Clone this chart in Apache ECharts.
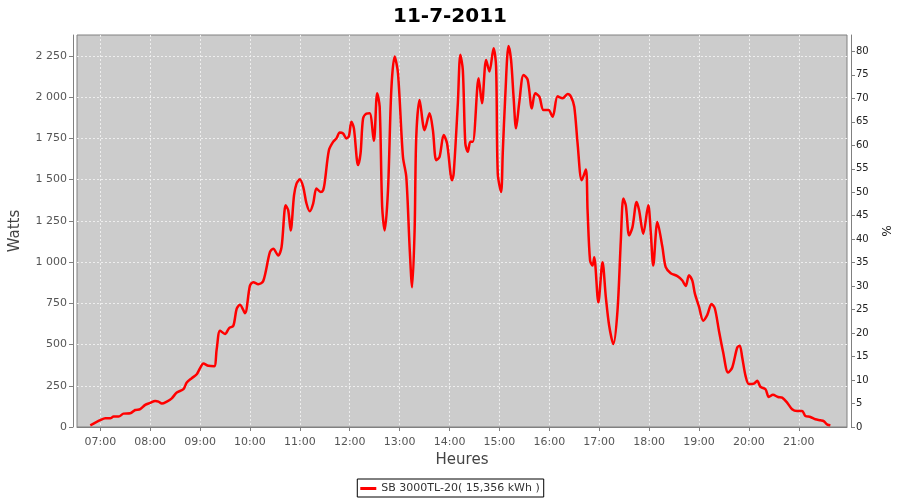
<!DOCTYPE html>
<html>
<head>
<meta charset="utf-8">
<script src="https://cdn.jsdelivr.net/npm/echarts@6/dist/echarts.min.js"></script>
<style>html,body{margin:0;padding:0;background:#fff}#c{width:900px;height:500px}</style>
</head>
<body>
<div id="c"></div>
<script>
var chartTitle = '11-7-2011';
var seriesName = 'SB 3000TL-20( 15,356 kWh )';
var day = '2011-07-11';
var times = ['06:48','07:00','07:06','07:12','07:16','07:22','07:28','07:36','07:42','07:48','07:54','08:00','08:06','08:10','08:14','08:20','08:26','08:32','08:40','08:44','08:50','08:56','09:00','09:04','09:10','09:17','09:20','09:24','09:30','09:35','09:40','09:44','09:48','09:54','10:00','10:04','10:10','10:16','10:24','10:28','10:34','10:38','10:43','10:46','10:49','10:53','10:56','11:00','11:04','11:08','11:12','11:16','11:20','11:25','11:28','11:30','11:35','11:40','11:44','11:48','11:52','11:56','11:59','12:02','12:05','12:10','12:13','12:16','12:20','12:24','12:29','12:33','12:36','12:39','12:42','12:46','12:50','12:54','12:58','13:04','13:08','13:12','13:15','13:18','13:20','13:24','13:30','13:36','13:40','13:44','13:48','13:53','13:57','14:03','14:05','14:10','14:13','14:16','14:19','14:22','14:25','14:28','14:35','14:39','14:44','14:48','14:53','14:56','14:58','15:02','15:04','15:07','15:11','15:14','15:17','15:20','15:24','15:29','15:34','15:39','15:43','15:48','15:53','15:59','16:04','16:10','16:16','16:22','16:26','16:30','16:34','16:39','16:44','16:46','16:49','16:52','16:54','16:59','17:04','17:08','17:12','17:17','17:22','17:26','17:29','17:32','17:36','17:40','17:45','17:48','17:53','17:59','18:02','18:05','18:10','18:16','18:20','18:26','18:34','18:40','18:44','18:48','18:52','18:55','19:00','19:05','19:10','19:15','19:19','19:24','19:29','19:35','19:40','19:46','19:49','19:52','19:56','20:00','20:06','20:10','20:14','20:20','20:24','20:29','20:35','20:40','20:46','20:52','20:58','21:04','21:08','21:14','21:20','21:26','21:30','21:34','21:38'];
var watts = [10,41,53,53,63,63,81,83,103,108,134,146,158,154,142,154,174,209,229,270,296,320,357,385,371,369,472,584,564,600,614,716,742,690,857,878,866,885,1060,1081,1040,1091,1344,1314,1192,1405,1476,1502,1456,1355,1308,1355,1446,1425,1436,1486,1679,1729,1750,1786,1780,1750,1764,1851,1811,1588,1659,1870,1900,1902,1735,2024,1942,1334,1192,1436,2044,2246,2145,1638,1517,1091,847,1192,1760,1983,1800,1902,1800,1618,1638,1770,1720,1496,1537,1963,2257,2165,1720,1669,1729,1729,2115,1963,2226,2155,2297,2186,1537,1425,1659,2003,2311,2226,2003,1811,1973,2135,2105,1932,2024,2003,1922,1922,1881,2005,1993,2019,2003,1942,1720,1496,1561,1314,1010,979,1030,756,999,786,614,503,706,1131,1385,1344,1162,1212,1365,1314,1172,1344,1182,979,1243,1091,969,933,915,888,855,920,888,810,730,645,680,746,720,584,455,330,361,482,493,422,310,260,263,280,243,229,182,195,182,178,148,108,97,97,67,61,47,41,36,16,10];
var xMin = '06:32', xMax = '21:58';
var wattsMax = 2377, wattsStep = 250;
var pctMax = 83.5, pctStep = 5;
var xName = 'Heures', yName = 'Watts', y2Name = '%';

var data = times.map(function (t, i) { return [day + ' ' + t, watts[i]]; });
var font = 'DejaVu Sans';
var gridLine = { show: true, showMinLine: false, showMaxLine: false,
  lineStyle: { color: '#eeeeee', type: [2, 2], width: 1 } };
var chart = echarts.init(document.getElementById('c'));
chart.setOption({
  backgroundColor: '#ffffff',
  animation: false,
  title: { text: chartTitle, left: 'center', top: 2,
    textStyle: { fontFamily: font, fontWeight: 'bold', fontSize: 20, color: '#000' } },
  grid: { left: 75, right: 53, top: 35, bottom: 73, show: true,
    backgroundColor: '#cccccc', borderColor: '#808080', borderWidth: 1 },
  legend: { bottom: 3, left: 'center', borderColor: '#000', borderWidth: 1, padding: [4, 4, 3, 3],
    backgroundColor: '#fff', itemWidth: 16, itemHeight: 3, icon: 'rect',
    textStyle: { fontFamily: font, fontSize: 11, color: '#333' } },
  xAxis: {
    type: 'time', min: day + ' ' + xMin, max: day + ' ' + xMax, offset: 4,
    minInterval: 3600000, maxInterval: 3600000,
    name: xName, nameLocation: 'middle', nameGap: 22,
    nameTextStyle: { fontFamily: font, fontSize: 15, color: '#444' },
    axisLine: { lineStyle: { color: '#808080' } },
    axisTick: { show: true, length: 4, lineStyle: { color: '#808080' } },
    axisLabel: { formatter: '{HH}:{mm}', fontFamily: font, fontSize: 11, color: '#555', margin: 6, showMinLabel: false, showMaxLabel: false },
    splitLine: gridLine
  },
  yAxis: [{
    type: 'value', min: 0, max: wattsMax, interval: wattsStep, offset: 4,
    name: yName, nameLocation: 'middle', nameGap: 50, nameRotate: 90,
    nameTextStyle: { fontFamily: font, fontSize: 15, color: '#444' },
    axisLine: { show: true, lineStyle: { color: '#808080' } },
    axisTick: { show: true, length: 4, lineStyle: { color: '#808080' } },
    axisLabel: { fontFamily: font, fontSize: 11, color: '#555', margin: 6, showMaxLabel: false,
      formatter: function (v) { return String(v).replace(/\B(?=(\d{3})+(?!\d))/g, ' '); } },
    splitLine: gridLine
  }, {
    type: 'value', position: 'right', min: 0, max: pctMax, interval: pctStep, offset: 4,
    name: y2Name, nameLocation: 'middle', nameGap: 28, nameRotate: -90,
    nameTextStyle: { fontFamily: font, fontSize: 12, color: '#222' },
    axisLine: { show: true, lineStyle: { color: '#808080' } },
    axisTick: { show: true, length: 4, lineStyle: { color: '#808080' } },
    axisLabel: { fontFamily: font, fontSize: 10, color: '#222', margin: 5, showMaxLabel: false },
    splitLine: { show: false }
  }],
  series: [{
    name: seriesName, type: 'line', data: data, showSymbol: false, symbol: 'none',
    smooth: 0.3, yAxisIndex: 0,
    lineStyle: { color: '#ff0000', width: 2.5 }, itemStyle: { color: '#ff0000' }
  }]
});
</script>
</body>
</html>
